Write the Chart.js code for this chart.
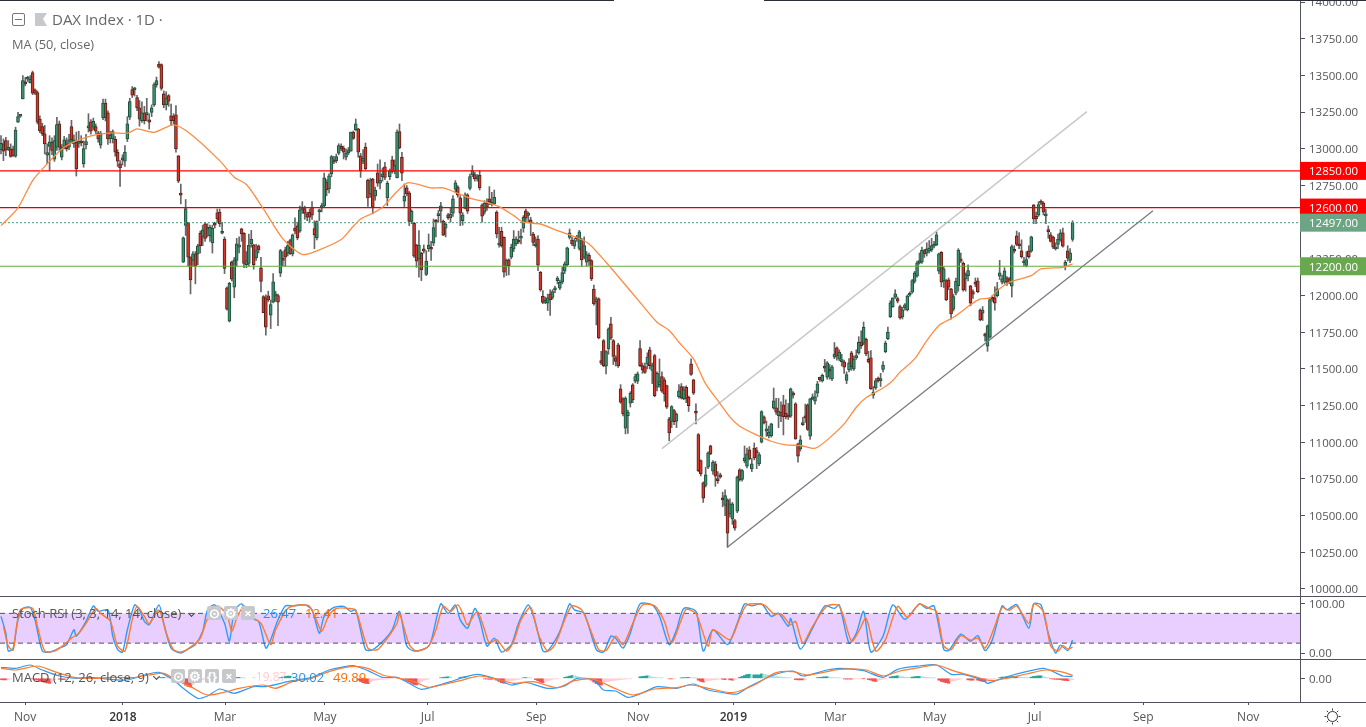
<!DOCTYPE html>
<html>
<head>
<meta charset="utf-8">
<title>DAX Index 1D</title>
<script src="https://cdn.jsdelivr.net/npm/chart.js@4"></script>
<style>
  html, body { margin: 0; padding: 0; background: #fff; overflow: hidden; }
  #wrap { position: relative; width: 1366px; height: 727px; font-family: "Open Sans", sans-serif; color: #555; }
  canvas { position: absolute; left: 0; top: 0; }
  .t { position: absolute; white-space: nowrap; line-height: 16px; }
  .btn { position: absolute; width: 14px; height: 14px; border-radius: 2px; background: #c6c8cc; color: #fff;
         font-size: 13px; line-height: 14px; text-align: center; font-weight: bold; }
  .chev { position: absolute; width: 4px; height: 4px; border-right: 1.5px solid #444; border-bottom: 1.5px solid #444; transform: rotate(45deg); }
  .bar { position: absolute; top: 0; height: 1px; background: #2a2e39; }
</style>
</head>
<body>
<div id="wrap">
  <canvas id="c" width="1366" height="727"></canvas>
  <div class="bar" style="left:0;width:614px"></div>
  <div class="bar" style="left:764px;width:602px"></div>

  <div style="position:absolute;left:12px;top:13px;width:11px;height:11px;border:1px solid #777;border-radius:2px"></div>
  <div style="position:absolute;left:15px;top:19px;width:7px;height:1px;background:#777"></div>
  <svg style="position:absolute;left:35px;top:13px" width="12" height="13"><polygon points="0,0 12,0 8,6 12,13 0,13" fill="#c6c8cc"/></svg>
  <div class="t" style="left:52px;top:11px;font-size:15px;color:#666">DAX Index · 1D ·</div>
  <div class="t" style="left:12px;top:36px;font-size:12.8px;color:#666">MA (50, close)</div>

  <div class="t" style="left:12px;top:605px;font-size:13px">Stoch RSI (3, 3, 14, 14, close)</div>
  <div class="chev" style="left:189px;top:611px"></div>
  <div class="btn" style="left:207px;top:606px">⊙</div>
  <div class="btn" style="left:224px;top:606px">⚙</div>
  <div class="btn" style="left:241px;top:606px">×</div>
  <div class="t" style="left:263px;top:605px;font-size:13px;color:#2196f3">26.47</div>
  <div class="t" style="left:305px;top:605px;font-size:13px;color:#ff6d00">12.41</div>

  <div class="t" style="left:12px;top:669px;font-size:13px">MACD (12, 26, close, 9)</div>
  <div class="chev" style="left:154px;top:674px"></div>
  <div class="btn" style="left:171px;top:669px">⊙</div>
  <div class="btn" style="left:188px;top:669px">⚙</div>
  <div class="btn" style="left:205px;top:669px">{}</div>
  <div class="btn" style="left:222px;top:669px">×</div>
  <div class="t" style="left:252px;top:669px;font-size:12px;color:#ffcdd2">-19.87</div>
  <div class="t" style="left:291px;top:669px;font-size:13px;color:#2196f3">30.02</div>
  <div class="t" style="left:333px;top:669px;font-size:13px;color:#ff6d00">49.89</div>

  <svg style="position:absolute;left:1324px;top:708px" width="17" height="17" stroke="#333" fill="none">
    <circle cx="8.5" cy="8.5" r="5"/>
    <path d="M8.5 0.5v2M8.5 14.5v2M0.5 8.5h2M14.5 8.5h2M2.8 2.8l1.5 1.5M12.7 12.7l1.5 1.5M2.8 14.2l1.5-1.5M12.7 4.3l1.5-1.5"/>
  </svg>
</div>

<script>
// candles, one value per trading day
const opens = [12993,13034,13057,12995,13000,12998,12950,13182,13223,13341,
13454,13475,13452,13520,13402,13384,13204,13152,13102,12957,
13016,13045,12930,13011,13170,12943,13016,13034,13011,13152,
13034,13045,13038,13050,12898,13027,13143,13184,13148,13152,
13109,13025,13211,13313,13245,13070,13070,13066,12977,12898,
12925,12916,13068,13216,13404,13402,13350,13280,13193,13245,
13234,13198,13248,13300,13438,13579,13575,13375,13300,13363,
13225,13220,13232,12952,12690,12228,12478,12498,12262,12239,
12284,12284,12425,12403,12489,12452,12409,12359,12489,12564,
12570,12425,12386,12052,11825,12230,12057,12239,12330,12455,
12425,12210,12220,12352,12346,12257,12339,12189,11993,11984,
11998,11866,11955,11998,12000,12152,12245,12312,12290,12375,
12284,12461,12475,12439,12584,12593,12557,12568,12602,12457,
12393,12571,12598,12611,12773,12727,12830,12925,12920,12970,
13018,13006,12943,12972,12984,13115,13129,13136,12952,12916,
13013,12788,12693,12795,12677,12836,12766,12811,12877,12666,
12811,12925,12847,12802,13118,12943,12643,12734,12700,12506,
12493,12345,12250,12288,12318,12145,12318,12325,12357,12505,
12545,12575,12506,12459,12550,12529,12561,12725,12740,12666,
12511,12595,12686,12731,12822,12825,12797,12822,12618,12568,
12631,12659,12622,12625,12570,12345,12438,12397,12200,12243,
12261,12318,12352,12370,12392,12459,12577,12547,12516,12420,
12340,12386,12159,11995,11954,11948,12011,11988,12038,12102,
12050,12091,12166,12209,12397,12379,12336,12395,12322,12379,
12261,12227,12275,12238,12045,11959,11977,11557,11693,11518,
11636,11807,11693,11577,11664,11364,11296,11096,11182,11266,
11391,11416,11416,11639,11523,11516,11534,11630,11489,11591,
11375,11393,11448,11425,11386,11159,11143,11216,11143,11311,
11380,11296,11375,11307,11534,11425,11204,11053,10875,10723,
10705,10830,10975,10803,10853,10744,10778,10621,10569,10607,
10512,10476,10466,10530,10812,10746,10875,10837,10948,10819,
10960,10944,10853,11000,11173,11075,11044,11044,11232,11234,
11182,11205,11255,11198,11182,11178,11337,11262,10989,10955,
11120,11173,11255,11041,11296,11280,11334,11443,11418,11514,
11443,11493,11432,11580,11643,11566,11550,11548,11421,11493,
11609,11500,11575,11609,11684,11675,11702,11566,11575,11321,
11371,11437,11420,11496,11618,11705,11857,11925,11989,11980,
11925,11857,11916,11902,12002,12023,12096,12132,12223,12227,
12307,12289,12302,12311,12336,12345,12166,12295,12102,12102,
12107,12046,11907,12016,12068,12250,12220,12114,12136,12066,
12027,12083,12100,11902,11880,11739,11655,11716,11984,11984,
12000,12132,12091,12091,12121,12114,12064,12316,12407,12352,
12305,12223,12205,12305,12302,12618,12541,12548,12643,12630,
12543,12440,12414,12398,12318,12348,12380,12427,12198,12305,12239,12382];

const highs = [13091,13068,13079,13057,13034,13020,13148,13250,13235,13500,
13488,13495,13500,13530,13410,13395,13225,13175,13160,13035,
13090,13075,13090,13215,13190,13030,13085,13075,13100,13195,
13095,13115,13120,13090,13055,13100,13240,13200,13210,13170,
13120,13120,13340,13340,13260,13120,13130,13085,12995,12920,
12960,13022,13220,13345,13425,13420,13365,13330,13320,13290,
13345,13240,13300,13450,13490,13595,13580,13395,13390,13370,
13305,13240,13295,12955,12760,12400,12655,12500,12265,12300,
12300,12350,12440,12480,12500,12490,12480,12480,12500,12590,
12590,12500,12400,12060,12090,12235,12260,12390,12400,12460,
12430,12300,12420,12445,12350,12350,12345,12260,12000,12005,
12030,11970,12150,12030,12010,12315,12300,12330,12370,12385,
12420,12530,12500,12610,12640,12610,12570,12590,12640,12510,
12510,12590,12630,12835,12790,12830,12955,12950,12965,13035,
13034,13020,13000,13010,13115,13122,13204,13140,12970,12995,
13040,12795,12800,12800,12740,12897,12925,12870,12909,12780,
12863,12950,12925,13130,13170,12977,12761,12750,12710,12585,
12500,12350,12443,12295,12345,12306,12420,12370,12522,12520,
12580,12636,12515,12500,12560,12602,12681,12784,12750,12681,
12565,12700,12695,12829,12886,12840,12825,12852,12625,12647,
12660,12743,12704,12720,12578,12466,12466,12400,12250,12250,
12350,12443,12400,12440,12454,12545,12590,12570,12534,12432,
12400,12409,12165,12034,11990,12010,12040,12040,12065,12130,
12105,12193,12230,12330,12454,12400,12390,12410,12445,12390,
12400,12300,12290,12245,12072,11990,11985,11620,11700,11625,
11780,11852,11700,11590,11675,11393,11305,11310,11220,11345,
11400,11465,11480,11693,11540,11540,11610,11648,11540,11600,
11480,11568,11480,11440,11390,11170,11250,11225,11200,11393,
11400,11380,11385,11315,11568,11430,11262,11060,10880,10730,
10830,10935,10980,10875,10870,10800,10790,10660,10675,10615,
10615,10590,10475,10770,10820,10815,10975,10960,10970,10890,
10995,10965,10930,11215,11180,11145,11110,11130,11370,11300,
11300,11275,11320,11290,11265,11370,11345,11270,10995,11045,
11170,11260,11262,11300,11330,11350,11415,11445,11465,11565,
11550,11530,11525,11680,11650,11630,11600,11560,11480,11570,
11620,11590,11630,11720,11760,11820,11710,11620,11625,11380,
11435,11445,11470,11550,11690,11785,11965,11985,12040,11990,
11935,11920,11945,12005,12025,12110,12165,12235,12290,12330,
12315,12360,12375,12390,12370,12435,12290,12300,12195,12110,
12120,12050,12010,12120,12320,12290,12230,12155,12210,12070,
12040,12120,12120,11910,11925,11745,11800,11980,12000,12060,
12090,12240,12140,12190,12130,12125,12345,12340,12440,12430,
12380,12260,12300,12340,12405,12620,12570,12640,12652,12640,
12590,12475,12430,12405,12360,12420,12450,12460,12240,12340,12320,12510];

const lows = [12966,12920,12954,12989,12943,12950,12943,13180,13215,13341,
13430,13460,13450,13370,13370,13170,13110,13090,12966,12900,
12852,12960,12915,12990,12990,12925,13000,12985,12995,13045,
13010,12815,13010,13020,12875,13000,13115,13100,13130,13105,
13045,13005,13200,13190,13030,13040,13040,12950,12880,12745,
12890,12880,13050,13200,13350,13360,13260,13155,13180,13170,
13190,13135,13220,13290,13420,13550,13400,13280,13265,13290,
13160,13170,12978,12770,12625,12225,12410,12200,12011,12200,
12080,12210,12290,12340,12370,12400,12370,12290,12460,12500,
12470,12420,12150,11900,11820,12100,11985,12200,12290,12370,
12190,12190,12200,12330,12180,12240,12290,12025,11885,11730,
11960,11775,11950,11960,11795,12130,12200,12200,12270,12280,
12270,12420,12380,12430,12560,12520,12510,12500,12520,12320,
12380,12510,12570,12600,12680,12700,12810,12900,12905,12960,
12988,12931,12925,12960,12984,13065,13125,12943,12806,12900,
12857,12607,12670,12557,12650,12745,12727,12780,12790,12613,
12790,12835,12830,12802,13000,12784,12602,12680,12477,12490,
12260,12193,12125,12102,12290,12136,12300,12240,12340,12400,
12500,12500,12409,12400,12520,12500,12540,12700,12670,12477,
12480,12590,12560,12720,12810,12780,12780,12720,12500,12555,
12580,12620,12610,12620,12393,12330,12330,12125,12136,12140,
12250,12300,12340,12355,12352,12432,12500,12500,12409,12340,
12330,12170,12030,11945,11945,11898,11864,11975,12020,12080,
12040,12080,12150,12200,12385,12340,12320,12370,12310,12200,
12250,12200,12205,12102,11935,11800,11705,11530,11515,11466,
11600,11700,11530,11520,11510,11265,11180,11057,11060,11240,
11270,11405,11400,11515,11470,11470,11500,11500,11400,11310,
11350,11375,11340,11280,11230,11010,11100,11120,11100,11300,
11295,11290,11270,11210,11455,11325,11125,10800,10770,10590,
10695,10820,10915,10780,10700,10720,10755,10560,10500,10285,
10490,10440,10400,10520,10735,10735,10860,10825,10880,10800,
10880,10820,10840,10995,11125,11040,11030,11035,11225,11190,
11100,11140,11050,11160,11155,11170,11300,11020,10865,10940,
11115,11135,11080,11020,11290,11260,11310,11415,11410,11480,
11430,11430,11420,11570,11560,11555,11520,11470,11400,11480,
11490,11490,11565,11600,11640,11665,11590,11540,11360,11300,
11360,11410,11380,11480,11610,11700,11850,11920,11980,11950,
11840,11840,11900,11895,11995,12015,12085,12125,12215,12220,
12260,12270,12290,12300,12325,12340,12150,12060,12055,11965,
12040,11840,11895,12005,12030,12225,12030,12030,12100,11930,
11980,12060,12020,11828,11830,11690,11620,11710,11960,11900,
11990,12110,12080,12080,12070,12080,11990,12290,12340,12320,
12255,12200,12195,12255,12295,12490,12490,12540,12620,12550,
12490,12390,12365,12320,12310,12320,12370,12330,12175,12235,12225,12370];

const closes = [13038,12984,12993,13011,12948,12950,13129,13220,13232,13466,
13443,13480,13475,13379,13379,13182,13125,13102,13034,12975,
13048,12989,13057,13166,13011,13011,13061,13000,13061,13061,
13061,12864,13050,13040,13002,13050,13152,13120,13188,13120,
13068,13107,13313,13211,13068,13093,13118,12977,12916,12870,
12935,12979,13170,13323,13366,13409,13280,13202,13245,13193,
13245,13182,13280,13438,13466,13557,13413,13300,13345,13325,
13193,13193,13000,12780,12685,12393,12593,12262,12107,12284,
12200,12339,12341,12448,12389,12466,12466,12459,12480,12523,
12489,12436,12186,11907,12084,12112,12243,12352,12346,12421,
12220,12239,12343,12386,12210,12307,12312,12096,11884,11784,
11971,11939,12093,12002,11955,12307,12240,12262,12341,12284,
12414,12439,12393,12584,12598,12560,12534,12534,12548,12416,
12505,12580,12614,12802,12720,12816,12948,12911,12948,13023,
13000,12977,12972,12993,13115,13072,13170,12977,12852,12936,
12863,12666,12784,12602,12720,12766,12788,12829,12806,12766,
12847,12847,12890,13115,13006,12834,12679,12693,12506,12575,
12268,12234,12345,12175,12302,12236,12345,12316,12463,12500,
12550,12611,12411,12488,12531,12556,12659,12768,12684,12561,
12550,12686,12575,12811,12854,12795,12806,12734,12541,12631,
12602,12641,12629,12672,12420,12357,12341,12159,12238,12204,
12329,12386,12386,12365,12397,12534,12527,12563,12497,12363,
12345,12207,12038,11954,11965,11984,11970,12027,12052,12120,
12091,12156,12216,12325,12427,12352,12375,12386,12434,12243,
12341,12279,12238,12113,11943,11977,11711,11539,11523,11618,
11773,11709,11586,11552,11520,11273,11193,11302,11205,11334,
11289,11448,11466,11523,11493,11477,11580,11523,11523,11318,
11470,11413,11348,11330,11239,11064,11243,11141,11193,11350,
11303,11357,11296,11250,11462,11334,11198,10807,10785,10619,
10778,10928,10921,10864,10769,10738,10762,10607,10637,10380,
10580,10580,10414,10762,10744,10807,10894,10921,10887,10853,
10894,10925,10916,11209,11132,11091,11069,11125,11282,11205,
11212,11178,11175,11175,11171,11364,11321,11023,10905,11016,
11125,11166,11087,11296,11302,11309,11398,11425,11457,11505,
11541,11484,11514,11602,11587,11614,11560,11512,11462,11541,
11516,11568,11591,11682,11659,11784,11602,11548,11364,11341,
11421,11418,11425,11527,11677,11752,11950,11984,12012,11962,
11848,11903,11937,11996,12016,12102,12155,12223,12239,12311,
12284,12318,12323,12341,12348,12414,12284,12091,12182,11971,
12057,11875,11993,12098,12311,12234,12039,12143,12171,11948,
12009,12078,12027,11834,11902,11723,11793,11973,11975,11948,
12046,12155,12114,12168,12091,12086,12334,12302,12348,12339,
12266,12232,12245,12266,12400,12523,12523,12620,12630,12568,
12548,12436,12370,12330,12325,12386,12427,12336,12227,12255,12291,12497];

// MA(50) read at its bends
const maX = [0,7,13,19,26,35,45,52,56,63,71,78,90,96,101,108,116,124,130,140,144,148,153,157,162,166,168,172,177,182,188,194,200,205,211,215,222,229,236,242,249,256,263,270,275,279,285,290,296,300,304,310,317,323,329,334,336,341,347,352,356,364,367,370,376,381,386,392,399,403,407,410,415,424,428,437,441];
const maY = [12477,12598,12784,12898,13011,13079,13109,13107,13136,13113,13164,13102,12920,12807,12757,12591,12387,12280,12305,12382,12454,12522,12561,12602,12693,12756,12770,12756,12734,12734,12697,12659,12636,12606,12545,12500,12488,12443,12402,12352,12227,12091,11954,11818,11762,11682,11568,11398,11262,11171,11109,11057,11007,10982,10978,10959,10966,11030,11125,11239,11303,11380,11421,11478,11568,11693,11796,11852,11937,11977,11984,12034,12091,12136,12182,12193,12216];

// Stoch RSI
const stochKX = [0,2,3,5,7,9,12,14,17,20,24,27,30,31,35,38,40,44,46,48,50,52,55,57,59,61,65,67,70,74,77,80,83,85,88,92,94,96,99,103,106,109,111,114,117,120,125,128,131,133,137,141,144,146,150,153,158,161,164,167,170,175,177,181,184,187,189,192,195,197,200,203,206,210,213,217,220,223,225,230,234,236,240,245,248,251,253,256,259,263,268,271,275,278,281,286,289,293,299,303,306,309,313,317,320,324,325,329,334,339,343,345,349,352,355,358,363,367,372,378,381,384,388,390,395,399,402,405,408,412,414,418,423,425,428,431,434,436,439,441];
const stochK = [74,40,4,10,67,90,92,67,4,2,10,17,47,34,64,95,84,87,34,7,2,47,97,87,64,57,97,60,10,0,8,17,44,87,97,60,24,84,99,70,64,10,27,67,95,95,97,87,40,74,92,94,84,87,7,7,28,47,84,14,4,10,24,99,80,97,67,50,90,67,14,30,2,17,60,97,60,4,4,44,99,87,80,7,2,34,30,10,40,99,97,74,17,47,90,84,4,47,17,60,99,95,99,74,80,54,70,8,50,95,90,97,20,40,84,2,34,97,68,99,90,95,7,5,38,24,35,5,27,95,87,98,50,99,97,40,0,16,5,26];
const stochDX = [1,3,5,6,8,13,15,18,22,26,29,32,35,39,41,45,48,51,54,56,59,61,65,68,71,74,78,82,85,89,93,95,97,100,103,107,111,113,118,123,127,130,132,135,138,143,146,151,155,159,163,164,168,171,176,179,182,185,188,190,192,196,199,201,204,208,211,214,218,221,225,228,232,235,239,242,246,249,253,256,260,264,269,273,276,280,282,286,291,293,300,304,307,314,318,321,325,327,330,334,340,345,350,353,356,360,364,369,373,378,382,385,388,391,395,399,402,405,409,412,415,418,423,425,429,432,435,437,439,441];
const stochD = [54,14,6,40,87,90,54,4,4,17,30,40,60,90,80,64,14,4,67,94,74,59,87,40,7,2,12,30,70,95,77,44,70,95,74,60,17,47,90,97,94,64,44,77,90,90,86,10,7,30,60,80,17,4,14,47,94,84,97,80,57,84,47,20,27,4,24,67,92,40,4,17,67,95,87,54,7,5,34,17,60,97,95,64,20,67,88,80,14,47,27,70,97,97,79,79,57,64,20,54,95,95,24,44,70,4,27,94,72,99,90,84,14,7,35,26,30,10,54,92,86,95,60,99,84,14,4,15,8,12];
const stochTicks = [100, 0];

// MACD
const macdX = [0,6,12,17,24,31,38,45,52,59,65,71,75,81,85,90,96,104,109,115,120,128,135,140,145,151,157,163,168,173,178,185,189,196,203,210,216,225,232,237,244,248,253,258,263,270,278,285,291,299,303,308,318,326,330,340,345,355,363,369,378,385,391,396,404,406,412,419,429,433,437,441];
const macdLine = [176,160,213,133,37,0,11,-16,-27,53,96,-27,-160,-320,-283,-171,-240,-133,-133,-80,-37,16,133,176,203,123,16,16,-80,-176,-133,-53,0,64,0,-107,-64,-160,-123,0,-27,-187,-203,-304,-251,-133,-160,-91,-187,-240,-251,-133,53,117,37,133,160,123,16,144,197,213,64,64,-27,-80,0,80,160,107,37,30];
const signalX = [0,6,15,22,30,38,46,54,61,67,72,78,85,93,98,108,113,120,128,135,144,151,157,164,170,176,183,189,197,204,211,219,229,236,244,251,260,269,278,284,291,301,310,319,326,332,345,356,363,370,378,385,393,400,407,414,422,430,436,441];
const signalLine = [160,133,197,107,16,0,16,11,53,80,-27,-133,-267,-213,-160,-107,-160,-53,0,107,187,160,53,0,-53,-144,-91,-37,37,-16,-80,-53,-149,-37,-16,-133,-267,-171,-149,-107,-160,-229,-107,91,107,53,144,133,37,117,171,213,107,37,-37,0,69,133,107,50];
const histStart = [0,13,24,65,74,96,115,147,166,181,189,199,204,215,220,232,243,263,275,280,287,297,304,327,336,347,357,366,374,386,398,402,411,424,432];
const histRuns = [
  [-20,-25,-25,-20,-10],
  [-10,-20,-30,-45,-55,-65,-75,-80,-50,-20],
  [-15,-20,-20,-10],
  [8,12,16,14,8],
  [-20,-60,-110,-130,-140,-100,-70,-50,-30,-20,-10,-5],
  [10,15,15,10,5],
  [10,20,30,35,35,25,12,5],
  [-30,-50,-70,-80,-85,-60,-40,-30,-25,-20,-15,-12,-10,-8,-5],
  [-20,-45,-60,-80,-100,-105,-70,-50,-30,-20,-12],
  [10,15,20,25,20],
  [15,20,25,20,15,10,5],
  [-10,-12,-15,-15],
  [-30,-50,-70,-80,-55,-45,-35,-30,-20,-15,-10],
  [8,12,10,6],
  [-20,-40,-60,-70,-45,-35,-25,-15,-10,-5],
  [15,25,35,45,40,30,15],
  [-30,-60,-85,-100,-110,-60,-55,-50,-40,-35,-30,-25,-20,-15,-10,-8,-5],
  [25,30,35,40,35,20,15,10,8,5],
  [-8,-10,-5],
  [6,10,12,14,10,6,4],
  [-30,-50,-60,-40,-35,-30,-25,-20,-15,-10],
  [-15,-20,-10,-25,-30,-25,-10],
  [15,30,45,60,65,55,55,55,55,70,65,55,50,45,40,30,25,20,15,12,10,8],
  [-20,-25,-25,-25,-20],
  [10,15,20,25,25,15,12,10,8,5],
  [-10,-12,-12,-12,-10,-8,-6,-5,-5],
  [-20,-30,-45,-50,-30,-20,-15,-5],
  [20,30,35,40,30,25,20,15],
  [12,20,25,30,30,25,20,15,12,8,5],
  [-30,-50,-60,-70,-80,-50,-40,-30,-20,-10],
  [-25,-30,-30,-15],
  [-30,-40,-50,-50,-35,-25,-15,-8],
  [10,20,20,25,25,30,30,30,20,18,15,12,10],
  [20,30,35,40,40,25,15,8],
  [-8,-12,-15,-18,-20,-30,-35,-38,-25,-20]
];

// levels and trend lines
const levelRedHigh = 12850;
const levelRedLow = 12600;
const levelGreen = 12200;
const lastPrice = 12497;
const channelX = [272, 446.9];
const channelY = [10957, 13254];
const trendX = [298.8, 474.1];
const trendY = [10282, 12579];

const priceTicks = [14000,13750,13500,13250,13000,12750,12500,12250,12000,11750,11500,11250,11000,10750,10500,10250,10000];
const timeTickX = [9.9,50.2,92.2,133.3,175.6,220.3,262.2,301.4,343.3,384.2,425.4,470.1,513.3];
const timeTickLabels = ['Nov','2018','Mar','May','Jul','Sep','Nov','2019','Mar','May','Jul','Sep','Nov'];

const FONT = '"Open Sans", sans-serif';
const xMin = -0.41, xMax = 534.6;

function zip(xs, ys) { return xs.map((x, i) => ({ x: x, y: ys[i] })); }
function isYear(c) { return !!c.tick && /^20/.test(c.tick.label); }

const wicks = opens.map((o, i) => ({ x: i, y: [lows[i], highs[i]] }));
const upBodies = [], downBodies = [];
opens.forEach((o, i) => {
    if (closes[i] >= o) upBodies.push({ x: i, y: [o, closes[i]] });
    else downBodies.push({ x: i, y: [closes[i], o] });
});

// histogram: colour follows whether the bar grew or shrank
const histByX = {};
histStart.forEach((s, r) => histRuns[r].forEach((v, k) => { histByX[s + k] = v; }));
const histData = [], histColors = [];
Object.keys(histByX).map(Number).sort((a, b) => a - b).forEach(i => {
    const v = histByX[i], prev = histByX[i - 1] || 0;
    histData.push({ x: i, y: v });
    if (v >= 0) histColors.push(v >= prev ? '#26a69a' : '#b2dfdb');
    else histColors.push(v <= prev ? '#ef5350' : '#ffcdd2');
});

function hLine(value, color, axis, dash, width) {
    return {
        type: 'line', yAxisID: axis, order: 2,
        data: zip([xMin, xMax], [value, value]),
        borderColor: color, borderWidth: width || 1, borderDash: dash || [],
        pointRadius: 0, fill: false
    };
}
function curve(xs, ys, color, axis, width, order) {
    return {
        type: 'line', yAxisID: axis, order: order,
        data: zip(xs, ys),
        borderColor: color, borderWidth: width, pointRadius: 0, tension: 0.25, fill: false
    };
}

const stochBand = hLine(80, '#555', 'stoch', [5, 4]);
stochBand.fill = { value: 20 };
stochBand.backgroundColor = '#e9cfff';
stochBand.order = 6;

const datasets = [
    { type: 'bar', yAxisID: 'price', order: 5, data: wicks, backgroundColor: '#666', barThickness: 1, grouped: false },
    { type: 'bar', yAxisID: 'price', order: 4, data: upBodies, backgroundColor: '#3f9070', borderColor: '#1d4f39', borderWidth: 1, borderSkipped: false, barThickness: 3, minBarLength: 2, grouped: false },
    { type: 'bar', yAxisID: 'price', order: 4, data: downBodies, backgroundColor: '#d13a2c', borderColor: '#5c1f18', borderWidth: 1, borderSkipped: false, barThickness: 3, minBarLength: 2, grouped: false },
    curve(maX, maY, '#ff8c42', 'price', 1.3, 1),
    hLine(levelRedHigh, '#ff0000', 'price', [], 1.2),
    hLine(levelRedLow, '#e00000', 'price', [], 1.2),
    hLine(levelGreen, '#64ad3f', 'price', [], 1.2),
    hLine(lastPrice, '#4f9a78', 'price', [2, 2]),
    { type: 'line', yAxisID: 'price', order: 2, data: zip(channelX, channelY), borderColor: '#c8c8c8', borderWidth: 1.4, pointRadius: 0 },
    { type: 'line', yAxisID: 'price', order: 2, data: zip(trendX, trendY), borderColor: '#777c85', borderWidth: 1.3, pointRadius: 0 },
    stochBand,
    hLine(20, '#555', 'stoch', [5, 4]),
    curve(stochKX, stochK, '#2f9bf5', 'stoch', 1.4, 2),
    curve(stochDX, stochD, '#ff7a2e', 'stoch', 1.4, 1),
    { type: 'bar', yAxisID: 'macd', order: 5, data: histData, backgroundColor: histColors, barThickness: 2.5, grouped: false },
    curve(macdX, macdLine, '#2f9bf5', 'macd', 1.2, 2),
    curve(signalX, signalLine, '#ff7a2e', 'macd', 1.2, 1)
];

const AXIS_COLOR = '#50535e';

function rightAxis(weight, min, max, ticks, order) {
    return {
        type: 'linear', position: 'right', stack: 'panes', stackWeight: weight, weight: order,
        min: min, max: max,
        grid: { drawOnChartArea: false, color: AXIS_COLOR, tickLength: 5 },
        border: { color: AXIS_COLOR, width: 1 },
        ticks: {
            color: '#555', font: { family: FONT, size: 11.5 }, padding: 4, labelOffset: 1,
            callback: v => v.toFixed(2)
        },
        afterBuildTicks: s => { s.ticks = ticks.map(v => ({ value: v })); },
        afterFit: s => { s.width = 66; s.paddingTop = 0; s.paddingBottom = 0; }
    };
}

// pane separators and the price badges on the axis
const panePlugin = {
    id: 'panes',
    afterDraw(chart) {
        const ctx = chart.ctx, price = chart.scales.price, stoch = chart.scales.stoch, macd = chart.scales.macd;
        ctx.save();
        ctx.fillStyle = AXIS_COLOR;
        [price.bottom, stoch.bottom, macd.bottom].forEach(y => ctx.fillRect(0, Math.round(y), 1366, 1));
        [[levelRedHigh, '#ff0000'], [levelRedLow, '#ff0000'], [lastPrice, '#6ba583'], [levelGreen, '#6aa84f']].forEach(b => {
            const y = price.getPixelForValue(b[0]);
            ctx.fillStyle = b[1];
            ctx.fillRect(1300, y - 9, 66, 18);
            ctx.fillStyle = '#fff';
            ctx.font = '500 11.5px ' + FONT;
            ctx.textBaseline = 'middle';
            ctx.fillText(b[0].toFixed(2), 1309, y + 1);
        });
        ctx.restore();
    }
};

new Chart(document.getElementById('c'), {
    data: { datasets: datasets },
    plugins: [panePlugin],
    options: {
        responsive: false,
        animation: false,
        layout: { padding: 0 },
        plugins: { legend: { display: false }, tooltip: { enabled: false } },
        events: [],
        scales: {
            x: {
                type: 'linear', position: 'bottom', min: xMin, max: xMax, offset: false,
                grid: { drawOnChartArea: false, color: AXIS_COLOR, tickLength: 3, offset: false },
                border: { color: AXIS_COLOR },
                ticks: {
                    autoSkip: false, maxRotation: 0, padding: 5,
                    color: c => isYear(c) ? '#333' : '#555',
                    font: c => ({ family: FONT, size: 12, weight: isYear(c) ? '600' : '400' }),
                    callback: v => timeTickLabels[timeTickX.indexOf(v)]
                },
                afterBuildTicks: s => { s.ticks = timeTickX.map(v => ({ value: v })); },
                afterFit: s => { s.height = 25; s.paddingLeft = 0; s.paddingRight = 0; }
            },
            price: rightAxis(596, 9952, 14015, priceTicks, 1),
            stoch: rightAxis(63, -12, 115, stochTicks, 2),
            macd: rightAxis(43, -379, 309, [0], 3)
        }
    }
});
</script>
</body>
</html>
